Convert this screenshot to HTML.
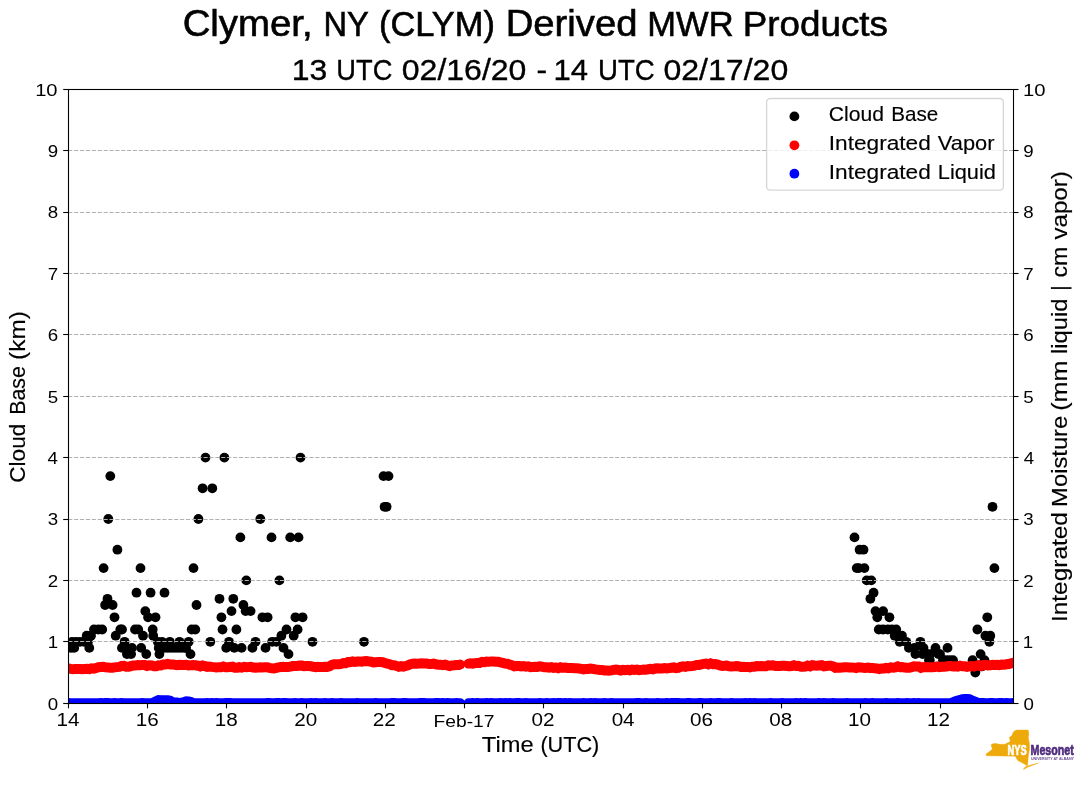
<!DOCTYPE html>
<html><head><meta charset="utf-8"><title>Clymer, NY (CLYM) Derived MWR Products</title>
<style>html,body{margin:0;padding:0;background:#fff;}svg{display:block;will-change:transform;}text{font-family:"Liberation Sans", sans-serif;}</style>
</head><body>
<svg width="1089" height="804" viewBox="0 0 1089 804">
<rect x="0" y="0" width="1089" height="804" fill="#ffffff"/>
<defs><clipPath id="ax"><rect x="68.30" y="89.30" width="945.10" height="613.90"/></clipPath></defs>
<g clip-path="url(#ax)" fill="#000000">
<circle cx="110.3" cy="476.1" r="4.9"/>
<circle cx="383.5" cy="476.1" r="4.9"/>
<circle cx="388.5" cy="476.1" r="4.9"/>
<circle cx="384.6" cy="506.8" r="4.9"/>
<circle cx="386.6" cy="506.8" r="4.9"/>
<circle cx="108.3" cy="519.0" r="4.9"/>
<circle cx="198.4" cy="519.0" r="4.9"/>
<circle cx="260.3" cy="519.0" r="4.9"/>
<circle cx="117.4" cy="549.7" r="4.9"/>
<circle cx="103.6" cy="568.1" r="4.9"/>
<circle cx="140.5" cy="568.1" r="4.9"/>
<circle cx="193.5" cy="568.1" r="4.9"/>
<circle cx="205.5" cy="457.6" r="4.9"/>
<circle cx="224.4" cy="457.6" r="4.9"/>
<circle cx="300.5" cy="457.6" r="4.9"/>
<circle cx="202.6" cy="488.3" r="4.9"/>
<circle cx="212.3" cy="488.3" r="4.9"/>
<circle cx="240.4" cy="537.4" r="4.9"/>
<circle cx="271.5" cy="537.4" r="4.9"/>
<circle cx="290.2" cy="537.4" r="4.9"/>
<circle cx="298.5" cy="537.4" r="4.9"/>
<circle cx="246.3" cy="580.4" r="4.9"/>
<circle cx="279.4" cy="580.4" r="4.9"/>
<circle cx="136.5" cy="592.7" r="4.9"/>
<circle cx="150.6" cy="592.7" r="4.9"/>
<circle cx="164.5" cy="592.7" r="4.9"/>
<circle cx="107.5" cy="598.8" r="4.9"/>
<circle cx="219.5" cy="598.8" r="4.9"/>
<circle cx="233.3" cy="598.8" r="4.9"/>
<circle cx="105.1" cy="605.0" r="4.9"/>
<circle cx="112.6" cy="605.0" r="4.9"/>
<circle cx="196.5" cy="605.0" r="4.9"/>
<circle cx="243.4" cy="605.0" r="4.9"/>
<circle cx="145.3" cy="611.1" r="4.9"/>
<circle cx="231.5" cy="611.1" r="4.9"/>
<circle cx="245.6" cy="611.1" r="4.9"/>
<circle cx="250.6" cy="611.1" r="4.9"/>
<circle cx="114.5" cy="617.3" r="4.9"/>
<circle cx="148.1" cy="617.3" r="4.9"/>
<circle cx="155.5" cy="617.3" r="4.9"/>
<circle cx="221.4" cy="617.3" r="4.9"/>
<circle cx="262.4" cy="617.3" r="4.9"/>
<circle cx="267.6" cy="617.3" r="4.9"/>
<circle cx="295.4" cy="617.3" r="4.9"/>
<circle cx="302.6" cy="617.3" r="4.9"/>
<circle cx="94.0" cy="629.5" r="4.9"/>
<circle cx="98.4" cy="629.5" r="4.9"/>
<circle cx="102.2" cy="629.5" r="4.9"/>
<circle cx="120.3" cy="629.5" r="4.9"/>
<circle cx="122.0" cy="629.5" r="4.9"/>
<circle cx="135.0" cy="629.5" r="4.9"/>
<circle cx="138.2" cy="629.5" r="4.9"/>
<circle cx="152.7" cy="629.5" r="4.9"/>
<circle cx="191.7" cy="629.5" r="4.9"/>
<circle cx="195.3" cy="629.5" r="4.9"/>
<circle cx="222.5" cy="629.5" r="4.9"/>
<circle cx="236.4" cy="629.5" r="4.9"/>
<circle cx="286.5" cy="629.5" r="4.9"/>
<circle cx="297.6" cy="629.5" r="4.9"/>
<circle cx="86.7" cy="635.7" r="4.9"/>
<circle cx="91.0" cy="635.7" r="4.9"/>
<circle cx="115.7" cy="635.7" r="4.9"/>
<circle cx="143.0" cy="635.7" r="4.9"/>
<circle cx="153.2" cy="635.7" r="4.9"/>
<circle cx="281.4" cy="635.7" r="4.9"/>
<circle cx="293.7" cy="635.7" r="4.9"/>
<circle cx="72.1" cy="641.8" r="4.9"/>
<circle cx="76.0" cy="641.8" r="4.9"/>
<circle cx="80.0" cy="641.8" r="4.9"/>
<circle cx="84.0" cy="641.8" r="4.9"/>
<circle cx="88.0" cy="641.8" r="4.9"/>
<circle cx="124.6" cy="641.8" r="4.9"/>
<circle cx="157.8" cy="641.8" r="4.9"/>
<circle cx="162.0" cy="641.8" r="4.9"/>
<circle cx="169.8" cy="641.8" r="4.9"/>
<circle cx="179.5" cy="641.8" r="4.9"/>
<circle cx="188.7" cy="641.8" r="4.9"/>
<circle cx="210.3" cy="641.8" r="4.9"/>
<circle cx="229.0" cy="641.8" r="4.9"/>
<circle cx="255.5" cy="641.8" r="4.9"/>
<circle cx="272.2" cy="641.8" r="4.9"/>
<circle cx="276.4" cy="641.8" r="4.9"/>
<circle cx="312.5" cy="641.8" r="4.9"/>
<circle cx="364.0" cy="641.8" r="4.9"/>
<circle cx="71.2" cy="647.9" r="4.9"/>
<circle cx="74.2" cy="647.9" r="4.9"/>
<circle cx="89.3" cy="647.9" r="4.9"/>
<circle cx="121.9" cy="647.9" r="4.9"/>
<circle cx="126.5" cy="647.9" r="4.9"/>
<circle cx="132.0" cy="647.9" r="4.9"/>
<circle cx="141.2" cy="647.9" r="4.9"/>
<circle cx="158.7" cy="647.9" r="4.9"/>
<circle cx="160.9" cy="647.9" r="4.9"/>
<circle cx="164.0" cy="647.9" r="4.9"/>
<circle cx="167.0" cy="647.9" r="4.9"/>
<circle cx="170.0" cy="647.9" r="4.9"/>
<circle cx="173.0" cy="647.9" r="4.9"/>
<circle cx="176.0" cy="647.9" r="4.9"/>
<circle cx="179.0" cy="647.9" r="4.9"/>
<circle cx="182.0" cy="647.9" r="4.9"/>
<circle cx="185.0" cy="647.9" r="4.9"/>
<circle cx="186.1" cy="647.9" r="4.9"/>
<circle cx="226.2" cy="647.9" r="4.9"/>
<circle cx="234.3" cy="647.9" r="4.9"/>
<circle cx="241.6" cy="647.9" r="4.9"/>
<circle cx="252.4" cy="647.9" r="4.9"/>
<circle cx="265.5" cy="647.9" r="4.9"/>
<circle cx="283.5" cy="647.9" r="4.9"/>
<circle cx="126.9" cy="654.1" r="4.9"/>
<circle cx="131.1" cy="654.1" r="4.9"/>
<circle cx="146.3" cy="654.1" r="4.9"/>
<circle cx="159.4" cy="654.1" r="4.9"/>
<circle cx="190.5" cy="654.1" r="4.9"/>
<circle cx="288.5" cy="654.1" r="4.9"/>
<circle cx="992.5" cy="506.8" r="4.9"/>
<circle cx="854.5" cy="537.4" r="4.9"/>
<circle cx="859.6" cy="549.7" r="4.9"/>
<circle cx="863.5" cy="549.7" r="4.9"/>
<circle cx="856.7" cy="568.1" r="4.9"/>
<circle cx="858.9" cy="568.1" r="4.9"/>
<circle cx="864.4" cy="568.1" r="4.9"/>
<circle cx="994.4" cy="568.1" r="4.9"/>
<circle cx="866.7" cy="580.4" r="4.9"/>
<circle cx="871.3" cy="580.4" r="4.9"/>
<circle cx="873.6" cy="592.7" r="4.9"/>
<circle cx="870.4" cy="598.8" r="4.9"/>
<circle cx="875.5" cy="611.1" r="4.9"/>
<circle cx="883.1" cy="611.1" r="4.9"/>
<circle cx="877.3" cy="617.3" r="4.9"/>
<circle cx="889.4" cy="617.3" r="4.9"/>
<circle cx="987.3" cy="617.3" r="4.9"/>
<circle cx="878.8" cy="629.5" r="4.9"/>
<circle cx="883.1" cy="629.5" r="4.9"/>
<circle cx="887.8" cy="629.5" r="4.9"/>
<circle cx="891.9" cy="629.5" r="4.9"/>
<circle cx="896.2" cy="629.5" r="4.9"/>
<circle cx="977.4" cy="629.5" r="4.9"/>
<circle cx="894.7" cy="635.7" r="4.9"/>
<circle cx="902.0" cy="635.7" r="4.9"/>
<circle cx="985.4" cy="635.7" r="4.9"/>
<circle cx="990.3" cy="635.7" r="4.9"/>
<circle cx="899.7" cy="641.8" r="4.9"/>
<circle cx="906.2" cy="641.8" r="4.9"/>
<circle cx="920.4" cy="641.8" r="4.9"/>
<circle cx="989.4" cy="641.8" r="4.9"/>
<circle cx="908.9" cy="647.9" r="4.9"/>
<circle cx="914.5" cy="647.9" r="4.9"/>
<circle cx="923.5" cy="647.9" r="4.9"/>
<circle cx="935.5" cy="647.9" r="4.9"/>
<circle cx="947.5" cy="647.9" r="4.9"/>
<circle cx="915.4" cy="654.1" r="4.9"/>
<circle cx="922.7" cy="654.1" r="4.9"/>
<circle cx="927.0" cy="654.1" r="4.9"/>
<circle cx="930.1" cy="654.1" r="4.9"/>
<circle cx="938.4" cy="654.1" r="4.9"/>
<circle cx="940.0" cy="654.1" r="4.9"/>
<circle cx="980.6" cy="654.1" r="4.9"/>
<circle cx="929.0" cy="660.2" r="4.9"/>
<circle cx="929.8" cy="660.2" r="4.9"/>
<circle cx="943.0" cy="660.2" r="4.9"/>
<circle cx="946.0" cy="660.2" r="4.9"/>
<circle cx="949.5" cy="660.2" r="4.9"/>
<circle cx="953.0" cy="660.2" r="4.9"/>
<circle cx="972.6" cy="660.2" r="4.9"/>
<circle cx="984.5" cy="660.2" r="4.9"/>
<circle cx="982.2" cy="666.4" r="4.9"/>
<circle cx="975.3" cy="672.5" r="4.9"/>
</g>
<g stroke="#b0b0b0" stroke-width="1.1" stroke-dasharray="4.1 1.78" fill="none">
<line x1="68.30" y1="703.50" x2="1013.40" y2="703.50"/>
<line x1="68.30" y1="641.50" x2="1013.40" y2="641.50"/>
<line x1="68.30" y1="580.50" x2="1013.40" y2="580.50"/>
<line x1="68.30" y1="519.50" x2="1013.40" y2="519.50"/>
<line x1="68.30" y1="457.50" x2="1013.40" y2="457.50"/>
<line x1="68.30" y1="396.50" x2="1013.40" y2="396.50"/>
<line x1="68.30" y1="334.50" x2="1013.40" y2="334.50"/>
<line x1="68.30" y1="273.50" x2="1013.40" y2="273.50"/>
<line x1="68.30" y1="212.50" x2="1013.40" y2="212.50"/>
<line x1="68.30" y1="150.50" x2="1013.40" y2="150.50"/>
<line x1="68.30" y1="89.50" x2="1013.40" y2="89.50"/>
</g>
<g clip-path="url(#ax)" fill="none" stroke-linecap="round" stroke-width="10.0">
<polyline stroke="#ff0000" points="68.5,668.5 70.8,668.9 73.1,669.2 75.4,668.9 77.7,669.0 80.1,669.0 82.4,669.3 84.7,668.9 87.0,668.8 89.3,669.1 91.6,668.4 93.9,668.7 96.2,668.1 98.5,667.2 100.8,666.9 103.2,666.7 105.5,667.3 107.8,667.4 110.1,667.7 112.4,667.8 114.7,667.4 117.0,667.1 119.3,666.9 121.6,666.0 123.9,665.9 126.3,666.7 128.6,666.8 130.9,666.1 133.2,665.4 135.5,665.4 137.8,665.1 140.1,665.2 142.4,665.1 144.7,665.0 147.0,665.9 149.4,665.2 151.7,665.4 154.0,666.2 156.3,666.3 158.6,665.3 160.9,665.4 163.2,664.4 165.5,664.4 167.8,663.9 170.1,664.5 172.5,664.4 174.8,664.8 177.1,665.1 179.4,664.8 181.7,665.0 184.0,664.9 186.3,664.7 188.6,665.4 190.9,665.3 193.2,665.1 195.6,665.3 197.9,665.7 200.2,666.4 202.5,665.5 204.8,666.0 207.1,666.9 209.4,666.5 211.7,666.9 214.0,667.1 216.3,667.4 218.7,667.3 221.0,667.2 223.3,666.5 225.6,667.2 227.9,667.2 230.2,666.9 232.5,666.7 234.8,667.8 237.1,667.7 239.4,667.1 241.8,667.6 244.1,666.8 246.4,667.2 248.7,667.1 251.0,666.9 253.3,667.5 255.6,667.8 257.9,667.6 260.2,667.2 262.5,667.4 264.9,667.3 267.2,667.3 269.5,667.9 271.8,668.3 274.1,668.4 276.4,667.9 278.7,667.4 281.0,666.9 283.3,666.8 285.6,667.1 288.0,667.1 290.3,666.6 292.6,666.1 294.9,666.0 297.2,666.0 299.5,665.6 301.8,665.6 304.1,666.3 306.4,666.1 308.7,666.1 311.1,666.3 313.4,666.8 315.7,667.2 318.0,666.8 320.3,667.1 322.6,667.0 324.9,666.8 327.2,666.9 329.5,666.3 331.8,665.0 334.2,664.3 336.5,664.3 338.8,664.3 341.1,663.9 343.4,663.1 345.7,663.2 348.0,662.0 350.3,662.1 352.6,661.4 354.9,662.0 357.3,661.6 359.6,661.6 361.9,661.7 364.2,661.2 366.5,661.1 368.8,661.4 371.1,661.7 373.4,662.5 375.7,662.2 378.0,662.1 380.4,662.1 382.7,662.2 385.0,663.0 387.3,663.7 389.6,664.2 391.9,665.2 394.2,665.2 396.5,665.9 398.8,666.7 401.1,666.2 403.5,666.6 405.8,666.0 408.1,665.3 410.4,664.2 412.7,663.7 415.0,663.5 417.3,663.7 419.6,663.4 421.9,663.3 424.2,663.6 426.6,663.6 428.9,663.9 431.2,663.9 433.5,663.6 435.8,664.3 438.1,664.7 440.4,664.7 442.7,665.2 445.0,664.7 447.3,665.4 449.7,666.0 452.0,665.4 454.3,665.3 456.6,665.0 458.9,665.0 460.1,664.5"/>
<polyline stroke="#ff0000" points="468.5,663.6 470.4,663.3 472.8,663.7 475.1,663.1 477.4,662.9 479.7,662.9 482.0,661.9 484.3,662.2 486.6,661.6 488.9,661.7 491.2,661.6 493.5,661.5 495.9,661.7 498.2,661.8 500.5,662.4 502.8,662.9 505.1,663.6 507.4,663.7 509.7,664.7 512.0,665.2 514.3,666.3 516.6,666.0 519.0,666.1 521.3,666.5 523.6,666.1 525.9,666.6 528.2,666.3 530.5,667.1 532.8,667.0 535.1,666.8 537.4,667.0 539.7,666.3 542.0,666.6 544.4,667.3 546.7,667.3 549.0,667.6 551.3,667.1 553.6,667.8 555.9,667.5 558.2,668.2 560.5,667.3 562.8,667.8 565.1,667.6 567.5,668.0 569.8,667.9 572.1,668.0 574.4,668.2 576.7,668.2 579.0,668.5 581.3,668.9 583.6,669.4 585.9,668.9 588.2,669.0 590.6,668.5 592.9,668.8 595.2,669.4 597.5,669.6 599.8,669.9 602.1,669.9 604.4,670.4 606.7,670.5 609.0,670.8 611.3,670.4 613.7,669.8 616.0,669.5 618.3,669.9 620.6,670.5 622.9,669.9 625.2,670.2 627.5,669.9 629.8,670.3 632.1,669.6 634.4,669.9 636.8,669.6 639.1,670.2 641.4,669.9 643.7,669.6 646.0,669.7 648.3,669.3 650.6,668.9 652.9,669.4 655.2,668.5 657.5,668.3 659.9,668.4 662.2,668.5 664.5,668.1 666.8,668.5 669.1,668.1 671.4,667.7 673.7,667.4 676.0,668.1 678.3,667.8 680.6,666.9 683.0,666.4 685.3,666.9 687.6,666.0 689.9,666.2 692.2,666.0 694.5,665.7 696.8,664.9 699.1,664.9 701.4,664.5 703.7,663.8 706.1,663.5 708.4,664.3 710.7,663.4 713.0,664.2 715.3,664.0 717.6,664.6 719.9,665.5 722.2,665.9 724.5,665.8 726.8,665.5 729.2,666.4 731.5,666.6 733.8,666.4 736.1,666.1 738.4,666.3 740.7,667.0 743.0,666.7 745.3,666.9 747.6,666.9 749.9,667.3 752.3,666.7 754.6,666.7 756.9,666.1 759.2,666.3 761.5,666.1 763.8,666.3 766.1,666.2 768.4,665.4 770.7,665.5 773.0,665.3 775.4,666.0 777.7,666.0 780.0,665.9 782.3,665.7 784.6,665.7 786.9,666.1 789.2,666.3 791.5,666.0 793.8,665.3 796.1,666.0 798.5,665.9 800.8,666.7 803.1,666.7 805.4,666.6 807.7,665.6 810.0,666.4 812.3,665.2 814.6,665.5 816.9,665.7 819.2,665.4 821.6,665.2 823.9,666.3 826.2,666.0 828.5,665.8 830.8,665.7 833.1,666.3 835.4,667.8 837.7,667.5 840.0,667.7 842.3,667.5 844.7,667.3 847.0,667.2 849.3,667.4 851.6,667.4 853.9,667.6 856.2,668.0 858.5,667.3 860.8,667.4 863.1,667.7 865.4,667.9 867.8,667.6 870.1,668.0 872.4,668.0 874.7,668.2 877.0,668.4 879.3,669.0 881.6,668.4 883.9,668.4 886.2,667.8 888.5,668.3 890.9,667.4 893.2,667.7 895.5,667.4 897.8,666.4 900.1,667.2 902.4,667.1 904.7,667.6 907.0,667.8 909.3,667.8 911.6,667.2 914.0,666.3 916.3,666.4 918.6,666.5 920.9,667.8 923.2,667.1 925.5,667.2 927.8,667.0 930.1,667.2 932.4,667.2 934.7,667.1 937.1,666.4 939.4,667.1 941.7,666.8 944.0,666.7 946.3,666.5 948.6,666.0 950.9,666.0 953.2,666.5 955.5,666.3 957.8,666.6 960.2,665.8 962.5,666.3 964.8,666.3 967.1,666.8 969.4,666.3 971.7,666.0 974.0,666.6 976.3,665.7 978.6,665.2 980.9,666.1 983.3,665.2 985.6,664.9 987.9,665.5 990.2,665.3 992.5,664.8 994.8,664.9 997.1,664.7 999.4,665.1 1001.7,664.6 1004.0,664.8 1006.4,664.3 1008.7,664.0 1011.0,663.4 1013.3,662.8 1015.6,663.0 1017.9,663.7"/>
<polyline stroke="#0000ff" points="68.5,703.1 70.8,703.2 73.1,703.2 75.4,703.2 77.7,703.2 80.1,703.3 82.4,703.2 84.7,703.2 87.0,703.3 89.3,703.3 91.6,703.2 93.9,703.2 96.2,703.2 98.5,703.3 100.8,703.1 103.2,703.3 105.5,703.1 107.8,703.1 110.1,703.3 112.4,703.3 114.7,703.1 117.0,703.2 119.3,703.3 121.6,703.1 123.9,703.2 126.3,703.2 128.6,703.3 130.9,703.3 133.2,703.2 135.5,703.3 137.8,703.2 140.1,703.3 142.4,703.1 144.7,703.2 147.0,703.2 149.4,703.2 151.7,703.3 154.0,702.2 156.3,701.2 158.6,700.0 160.9,700.2 163.2,700.2 165.5,700.2 167.8,700.2 170.1,700.7 172.5,702.2 174.8,702.6 177.1,702.6 179.4,703.3 181.7,702.6 184.0,702.0 186.3,701.3 188.6,701.4 190.9,701.9 193.2,703.2 195.6,703.2 197.9,703.3 200.2,703.3 202.5,703.2 204.8,703.3 207.1,703.1 209.4,703.2 211.7,703.1 214.0,703.3 216.3,703.1 218.7,703.3 221.0,703.2 223.3,703.2 225.6,703.1 227.9,703.1 230.2,703.1 232.5,703.3 234.8,703.2 237.1,703.2 239.4,703.2 241.8,703.2 244.1,703.2 246.4,703.2 248.7,703.2 251.0,703.3 253.3,703.2 255.6,703.3 257.9,703.3 260.2,703.2 262.5,703.2 264.9,703.3 267.2,703.1 269.5,703.1 271.8,703.2 274.1,703.2 276.4,703.1 278.7,703.1 281.0,703.3 283.3,703.1 285.6,703.1 288.0,703.3 290.3,703.3 292.6,703.2 294.9,703.1 297.2,703.3 299.5,703.2 301.8,703.1 304.1,703.2 306.4,703.2 308.7,703.3 311.1,703.1 313.4,703.3 315.7,703.1 318.0,703.2 320.3,703.2 322.6,703.2 324.9,703.1 327.2,703.2 329.5,703.2 331.8,703.1 334.2,703.2 336.5,703.2 338.8,703.3 341.1,703.1 343.4,703.3 345.7,703.2 348.0,703.2 350.3,703.3 352.6,703.3 354.9,703.2 357.3,703.1 359.6,703.2 361.9,703.3 364.2,703.3 366.5,703.2 368.8,703.2 371.1,703.3 373.4,703.3 375.7,703.1 378.0,703.3 380.4,703.2 382.7,703.2 385.0,703.3 387.3,703.2 389.6,703.2 391.9,703.1 394.2,703.1 396.5,703.3 398.8,703.2 401.1,703.3 403.5,703.1 405.8,703.1 408.1,703.3 410.4,703.2 412.7,703.2 415.0,703.2 417.3,703.2 419.6,703.1 421.9,703.1 424.2,703.1 426.6,703.2 428.9,703.3 431.2,703.3 433.5,703.2 435.8,703.1 438.1,703.1 440.4,703.3 442.7,703.1 445.0,703.2 447.3,703.1 449.7,703.3 452.0,703.3 454.3,703.3 456.6,703.1 458.9,703.2 460.1,703.2"/>
<polyline stroke="#0000ff" points="468.5,703.2 470.4,703.2 472.8,703.1 475.1,703.2 477.4,703.1 479.7,703.2 482.0,703.2 484.3,703.3 486.6,703.1 488.9,703.3 491.2,703.1 493.5,703.3 495.9,703.3 498.2,703.2 500.5,703.1 502.8,703.2 505.1,703.1 507.4,703.3 509.7,703.1 512.0,703.3 514.3,703.3 516.6,703.1 519.0,703.1 521.3,703.2 523.6,703.3 525.9,703.1 528.2,703.3 530.5,703.3 532.8,703.3 535.1,703.2 537.4,703.2 539.7,703.1 542.0,703.2 544.4,703.2 546.7,703.1 549.0,703.2 551.3,703.3 553.6,703.1 555.9,703.3 558.2,703.1 560.5,703.1 562.8,703.2 565.1,703.1 567.5,703.2 569.8,703.1 572.1,703.3 574.4,703.3 576.7,703.3 579.0,703.2 581.3,703.2 583.6,703.1 585.9,703.2 588.2,703.2 590.6,703.1 592.9,703.3 595.2,703.1 597.5,703.2 599.8,703.3 602.1,703.2 604.4,703.1 606.7,703.2 609.0,703.3 611.3,703.1 613.7,703.3 616.0,703.2 618.3,703.3 620.6,703.2 622.9,703.3 625.2,703.2 627.5,703.3 629.8,703.3 632.1,703.2 634.4,703.3 636.8,703.1 639.1,703.1 641.4,703.3 643.7,703.2 646.0,703.1 648.3,703.2 650.6,703.3 652.9,703.3 655.2,703.2 657.5,703.1 659.9,703.2 662.2,703.2 664.5,703.2 666.8,703.1 669.1,703.2 671.4,703.1 673.7,703.1 676.0,703.1 678.3,703.1 680.6,703.2 683.0,703.2 685.3,703.2 687.6,703.1 689.9,703.1 692.2,703.2 694.5,703.2 696.8,703.2 699.1,703.1 701.4,703.1 703.7,703.2 706.1,703.3 708.4,703.2 710.7,703.1 713.0,703.2 715.3,703.2 717.6,703.1 719.9,703.1 722.2,703.2 724.5,703.3 726.8,703.2 729.2,703.3 731.5,703.1 733.8,703.3 736.1,703.2 738.4,703.2 740.7,703.2 743.0,703.3 745.3,703.1 747.6,703.3 749.9,703.1 752.3,703.3 754.6,703.1 756.9,703.2 759.2,703.2 761.5,703.2 763.8,703.2 766.1,703.2 768.4,703.3 770.7,703.1 773.0,703.2 775.4,703.2 777.7,703.3 780.0,703.3 782.3,703.1 784.6,703.2 786.9,703.2 789.2,703.2 791.5,703.2 793.8,703.3 796.1,703.1 798.5,703.3 800.8,703.1 803.1,703.3 805.4,703.1 807.7,703.3 810.0,703.3 812.3,703.2 814.6,703.3 816.9,703.3 819.2,703.1 821.6,703.2 823.9,703.1 826.2,703.3 828.5,703.2 830.8,703.2 833.1,703.1 835.4,703.3 837.7,703.3 840.0,703.2 842.3,703.3 844.7,703.2 847.0,703.1 849.3,703.2 851.6,703.2 853.9,703.2 856.2,703.2 858.5,703.2 860.8,703.2 863.1,703.2 865.4,703.1 867.8,703.2 870.1,703.2 872.4,703.1 874.7,703.2 877.0,703.2 879.3,703.2 881.6,703.3 883.9,703.2 886.2,703.1 888.5,703.3 890.9,703.2 893.2,703.3 895.5,703.2 897.8,703.1 900.1,703.2 902.4,703.2 904.7,703.3 907.0,703.1 909.3,703.3 911.6,703.2 914.0,703.1 916.3,703.2 918.6,703.1 920.9,703.2 923.2,703.2 925.5,703.2 927.8,703.2 930.1,703.2 932.4,703.3 934.7,703.3 937.1,703.2 939.4,703.2 941.7,703.2 944.0,703.3 946.3,703.2 948.6,703.2 950.9,703.1 953.2,702.2 955.5,701.3 957.8,700.5 960.2,699.9 962.5,699.1 964.8,699.0 967.1,699.1 969.4,699.2 971.7,700.3 974.0,701.3 976.3,702.1 978.6,703.2 980.9,703.1 983.3,703.1 985.6,703.3 987.9,703.3 990.2,703.1 992.5,703.1 994.8,703.3 997.1,703.2 999.4,703.1 1001.7,703.1 1004.0,703.3 1006.4,703.1 1008.7,703.3 1011.0,703.3 1013.3,703.1 1015.6,703.2 1017.9,703.2"/>
</g>
<g stroke="#000000" stroke-width="1.1" fill="none">
<rect x="68.50" y="89.50" width="945.00" height="614.00"/>
<line x1="63.20" y1="703.50" x2="68.30" y2="703.50"/>
<line x1="1013.40" y1="703.50" x2="1018.50" y2="703.50"/>
<line x1="63.20" y1="641.50" x2="68.30" y2="641.50"/>
<line x1="1013.40" y1="641.50" x2="1018.50" y2="641.50"/>
<line x1="63.20" y1="580.50" x2="68.30" y2="580.50"/>
<line x1="1013.40" y1="580.50" x2="1018.50" y2="580.50"/>
<line x1="63.20" y1="519.50" x2="68.30" y2="519.50"/>
<line x1="1013.40" y1="519.50" x2="1018.50" y2="519.50"/>
<line x1="63.20" y1="457.50" x2="68.30" y2="457.50"/>
<line x1="1013.40" y1="457.50" x2="1018.50" y2="457.50"/>
<line x1="63.20" y1="396.50" x2="68.30" y2="396.50"/>
<line x1="1013.40" y1="396.50" x2="1018.50" y2="396.50"/>
<line x1="63.20" y1="334.50" x2="68.30" y2="334.50"/>
<line x1="1013.40" y1="334.50" x2="1018.50" y2="334.50"/>
<line x1="63.20" y1="273.50" x2="68.30" y2="273.50"/>
<line x1="1013.40" y1="273.50" x2="1018.50" y2="273.50"/>
<line x1="63.20" y1="212.50" x2="68.30" y2="212.50"/>
<line x1="1013.40" y1="212.50" x2="1018.50" y2="212.50"/>
<line x1="63.20" y1="150.50" x2="68.30" y2="150.50"/>
<line x1="1013.40" y1="150.50" x2="1018.50" y2="150.50"/>
<line x1="63.20" y1="89.50" x2="68.30" y2="89.50"/>
<line x1="1013.40" y1="89.50" x2="1018.50" y2="89.50"/>
<line x1="68.50" y1="703.20" x2="68.50" y2="708.30"/>
<line x1="147.50" y1="703.20" x2="147.50" y2="708.30"/>
<line x1="226.50" y1="703.20" x2="226.50" y2="708.30"/>
<line x1="306.50" y1="703.20" x2="306.50" y2="708.30"/>
<line x1="385.50" y1="703.20" x2="385.50" y2="708.30"/>
<line x1="464.50" y1="703.20" x2="464.50" y2="708.30"/>
<line x1="543.50" y1="703.20" x2="543.50" y2="708.30"/>
<line x1="623.50" y1="703.20" x2="623.50" y2="708.30"/>
<line x1="702.50" y1="703.20" x2="702.50" y2="708.30"/>
<line x1="781.50" y1="703.20" x2="781.50" y2="708.30"/>
<line x1="860.50" y1="703.20" x2="860.50" y2="708.30"/>
<line x1="940.50" y1="703.20" x2="940.50" y2="708.30"/>
</g>
<rect x="766.6" y="98.5" width="236.8" height="91.6" rx="3.6" ry="3.6" fill="#ffffff" fill-opacity="0.8" stroke="#cccccc" stroke-opacity="0.8" stroke-width="1.35"/>
<circle cx="794.4" cy="116.4" r="4.9" fill="#000000"/>
<circle cx="794.4" cy="145.3" r="4.9" fill="#ff0000"/>
<circle cx="794.4" cy="173.7" r="4.9" fill="#0000ff"/>
<text transform="matrix(1.0659 0 0 1 182.63 36.00)" font-size="36.00" stroke="#000" stroke-width="0.60">Clymer,</text>
<text transform="matrix(0.9074 0 0 1 323.48 36.00)" font-size="36.00" stroke="#000" stroke-width="0.60">NY</text>
<text transform="matrix(0.9572 0 0 1 378.93 36.00)" font-size="36.00" stroke="#000" stroke-width="0.60">(CLYM)</text>
<text transform="matrix(1.0621 0 0 1 505.71 36.00)" font-size="36.00" stroke="#000" stroke-width="0.60">Derived</text>
<text transform="matrix(0.9592 0 0 1 647.32 36.00)" font-size="36.00" stroke="#000" stroke-width="0.60">MWR</text>
<text transform="matrix(1.0231 0 0 1 742.63 36.00)" font-size="36.00" stroke="#000" stroke-width="0.60">Products</text>
<text transform="matrix(1.0826 0 0 1 291.72 80.00)" font-size="29.50" stroke="#000" stroke-width="0.35">13</text>
<text transform="matrix(0.9247 0 0 1 336.35 80.00)" font-size="29.50" stroke="#000" stroke-width="0.35">UTC</text>
<text transform="matrix(1.0859 0 0 1 401.77 80.00)" font-size="29.50" stroke="#000" stroke-width="0.35">02/16/20</text>
<text transform="matrix(1.0811 0 0 1 536.53 80.00)" font-size="29.50" stroke="#000" stroke-width="0.35">-</text>
<text transform="matrix(1.0510 0 0 1 553.59 80.00)" font-size="29.50" stroke="#000" stroke-width="0.35">14</text>
<text transform="matrix(0.9370 0 0 1 597.92 80.00)" font-size="29.50" stroke="#000" stroke-width="0.35">UTC</text>
<text transform="matrix(1.0868 0 0 1 663.47 80.00)" font-size="29.50" stroke="#000" stroke-width="0.35">02/17/20</text>
<text transform="matrix(1.1000 0 0 1 47.70 710.00)" font-size="17.00">0</text>
<text transform="matrix(1.1000 0 0 1 1023.41 710.00)" font-size="17.00">0</text>
<text transform="matrix(1.1000 0 0 1 47.83 648.00)" font-size="17.00">1</text>
<text transform="matrix(1.1000 0 0 1 1022.75 648.00)" font-size="17.00">1</text>
<text transform="matrix(1.1000 0 0 1 47.86 587.00)" font-size="17.00">2</text>
<text transform="matrix(1.1000 0 0 1 1023.26 587.00)" font-size="17.00">2</text>
<text transform="matrix(1.1000 0 0 1 47.80 525.00)" font-size="17.00">3</text>
<text transform="matrix(1.1000 0 0 1 1023.27 525.00)" font-size="17.00">3</text>
<text transform="matrix(1.1000 0 0 1 47.46 464.00)" font-size="17.00">4</text>
<text transform="matrix(1.1000 0 0 1 1023.76 464.00)" font-size="17.00">4</text>
<text transform="matrix(1.1000 0 0 1 47.78 403.00)" font-size="17.00">5</text>
<text transform="matrix(1.1000 0 0 1 1023.21 403.00)" font-size="17.00">5</text>
<text transform="matrix(1.1000 0 0 1 47.82 341.00)" font-size="17.00">6</text>
<text transform="matrix(1.1000 0 0 1 1023.22 341.00)" font-size="17.00">6</text>
<text transform="matrix(1.1000 0 0 1 47.86 280.00)" font-size="17.00">7</text>
<text transform="matrix(1.1000 0 0 1 1023.24 280.00)" font-size="17.00">7</text>
<text transform="matrix(1.1000 0 0 1 47.78 218.00)" font-size="17.00">8</text>
<text transform="matrix(1.1000 0 0 1 1023.35 218.00)" font-size="17.00">8</text>
<text transform="matrix(1.1000 0 0 1 47.84 157.00)" font-size="17.00">9</text>
<text transform="matrix(1.1000 0 0 1 1023.25 157.00)" font-size="17.00">9</text>
<text transform="matrix(1.1870 0 0 1 35.14 96.00)" font-size="17.00">10</text>
<text transform="matrix(1.1929 0 0 1 1022.93 96.00)" font-size="17.00">10</text>
<text transform="matrix(1.0870 0 0 1 56.51 726.00)" font-size="19.00">14</text>
<text transform="matrix(1.0870 0 0 1 135.77 726.00)" font-size="19.00">16</text>
<text transform="matrix(1.0870 0 0 1 214.73 726.00)" font-size="19.00">18</text>
<text transform="matrix(1.0870 0 0 1 294.29 726.00)" font-size="19.00">20</text>
<text transform="matrix(1.0870 0 0 1 372.85 726.00)" font-size="19.00">22</text>
<text transform="matrix(1.1317 0 0 1 433.51 727.00)" font-size="17.00">Feb-17</text>
<text transform="matrix(1.0870 0 0 1 531.57 726.00)" font-size="19.00">02</text>
<text transform="matrix(1.0870 0 0 1 611.63 726.00)" font-size="19.00">04</text>
<text transform="matrix(1.0870 0 0 1 690.09 726.00)" font-size="19.00">06</text>
<text transform="matrix(1.0870 0 0 1 769.35 726.00)" font-size="19.00">08</text>
<text transform="matrix(1.0870 0 0 1 848.11 726.00)" font-size="19.00">10</text>
<text transform="matrix(1.0870 0 0 1 927.07 726.00)" font-size="19.00">12</text>
<text transform="matrix(1.0765 0 0 1 481.83 752.00)" font-size="22.00" stroke="#000" stroke-width="0.15">Time</text>
<text transform="matrix(0.9844 0 0 1 540.40 752.00)" font-size="22.00" stroke="#000" stroke-width="0.15">(UTC)</text>
<text transform="matrix(1.0308 0 0 1 828.83 121.00)" font-size="20.50" stroke="#000" stroke-width="0.15">Cloud</text>
<text transform="matrix(1.0067 0 0 1 891.17 121.00)" font-size="20.50" stroke="#000" stroke-width="0.15">Base</text>
<text transform="matrix(1.1049 0 0 1 828.78 150.00)" font-size="20.50" stroke="#000" stroke-width="0.15">Integrated</text>
<text transform="matrix(1.0658 0 0 1 937.84 150.00)" font-size="20.50" stroke="#000" stroke-width="0.15">Vapor</text>
<text transform="matrix(1.1049 0 0 1 828.78 179.00)" font-size="20.50" stroke="#000" stroke-width="0.15">Integrated</text>
<text transform="matrix(1.0631 0 0 1 937.78 179.00)" font-size="20.50" stroke="#000" stroke-width="0.15">Liquid</text>
<text transform="matrix(0 -1.0298 1 0 24.60 482.84)" font-size="22.00" stroke="#000" stroke-width="0.15">Cloud</text>
<text transform="matrix(0 -0.9680 1 0 24.60 414.78)" font-size="22.00" stroke="#000" stroke-width="0.15">Base</text>
<text transform="matrix(0 -1.1107 1 0 24.60 359.88)" font-size="22.00" stroke="#000" stroke-width="0.15">(km)</text>
<text transform="matrix(0 -1.1108 1 0 1067.00 622.10)" font-size="22.00" stroke="#000" stroke-width="0.15">Integrated</text>
<text transform="matrix(0 -1.0809 1 0 1067.00 506.88)" font-size="22.00" stroke="#000" stroke-width="0.15">Moisture</text>
<text transform="matrix(0 -1.1343 1 0 1067.00 410.71)" font-size="22.00" stroke="#000" stroke-width="0.15">(mm</text>
<text transform="matrix(0 -1.0773 1 0 1067.00 353.94)" font-size="22.00" stroke="#000" stroke-width="0.15">liquid</text>
<text transform="matrix(0 -1.0597 1 0 1067.00 277.59)" font-size="22.00" stroke="#000" stroke-width="0.15">cm</text>
<text transform="matrix(0 -1.0988 1 0 1067.00 239.62)" font-size="22.00" stroke="#000" stroke-width="0.15">vapor)</text>
<rect x="1050.9" y="287.2" width="20.6" height="1.7" fill="#000"/>
<g>
<path d="M986.00 754.03 L989.44 751.46 L992.30 749.17 L991.44 746.59 L991.15 744.59 L993.44 743.62 L996.30 743.45 L999.73 744.31 L1004.88 744.19 L1007.17 742.88 L1010.03 741.73 L1009.92 739.73 L1009.17 737.44 L1011.75 735.73 L1012.89 732.86 L1014.61 730.86 L1016.90 730.00 L1028.05 729.89 L1028.62 731.72 L1028.91 734.58 L1028.34 737.44 L1028.80 740.30 L1029.48 743.16 L1029.60 748.88 L1028.62 754.60 L1028.05 760.32 L1027.77 763.76 L1027.19 765.47 L1026.34 765.59 L1024.33 764.04 L1021.47 762.61 L1017.47 760.32 L1016.32 758.04 L1015.18 756.32 L986.29 755.86Z" fill="#eea90b" stroke="#eea90b" stroke-width="0.3" stroke-linejoin="round"/>
<path d="M1026.51 765.70 L1030.63 764.84 L1035.20 763.53 L1038.64 762.44 L1038.41 763.24 L1033.49 765.19 L1027.77 767.42 L1023.65 769.76 L1022.96 769.25 L1025.02 766.85Z" fill="#eea90b" fill-opacity="0.85"/>
<text transform="matrix(0.6118 0 0 1 1007.58 754.80)" font-size="15.20" font-weight="700" style="fill:#ffffff;stroke:#ffffff;stroke-width:0.7px">NYS</text>
<text transform="matrix(0.7034 0 0 1 1030.48 754.80)" font-size="15.20" font-weight="700" style="fill:#4f2c7e;stroke:#4f2c7e;stroke-width:0.7px">Mesonet</text>
<text transform="matrix(0.9804 0 0 1 1030.93 759.90)" font-size="3.7" font-weight="700" style="fill:#4f2c7e;fill-opacity:0.85">UNIVERSITY AT ALBANY</text>
</g>
</svg></body></html>
